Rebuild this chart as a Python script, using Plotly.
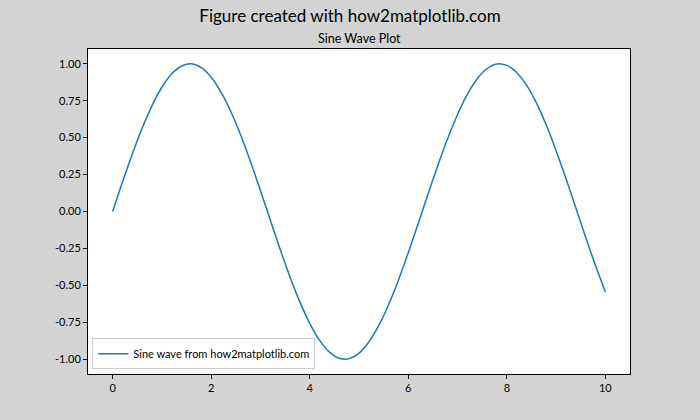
import plotly.graph_objects as go

x_vals = [0.0, 0.2, 0.4, 0.6, 0.8, 1.0, 1.2, 1.4, 1.6, 1.8, 2.0, 2.2, 2.4, 2.6, 2.8, 3.0,
          3.2, 3.4, 3.6, 3.8, 4.0, 4.2, 4.4, 4.6, 4.8, 5.0, 5.2, 5.4, 5.6, 5.8, 6.0,
          6.2, 6.4, 6.6, 6.8, 7.0, 7.2, 7.4, 7.6, 7.8, 8.0, 8.2, 8.4, 8.6, 8.8, 9.0,
          9.2, 9.4, 9.6, 9.8, 10.0]
y_vals = [0.000, 0.199, 0.389, 0.565, 0.717, 0.841, 0.932, 0.985, 1.000, 0.974, 0.909, 0.808, 0.675,
          0.516, 0.335, 0.141, -0.058, -0.256, -0.443, -0.612, -0.757, -0.872, -0.952, -0.994,
          -0.996, -0.959, -0.883, -0.773, -0.631, -0.465, -0.279, -0.083, 0.117, 0.312, 0.494,
          0.657, 0.794, 0.899, 0.968, 0.999, 0.989, 0.941, 0.855, 0.735, 0.585, 0.412, 0.223,
          0.025, -0.174, -0.366, -0.544]
x_ticks = [0, 2, 4, 6, 8, 10]
y_ticks = [-1.00, -0.75, -0.50, -0.25, 0.00, 0.25, 0.50, 0.75, 1.00]
series_name = "Sine wave from how2matplotlib.com"
fig_title = "Figure created with how2matplotlib.com"
ax_title = "Sine Wave Plot"

FONT = "Lato, Roboto, Noto Sans, sans-serif"

fig = go.Figure()
fig.add_trace(go.Scatter(x=x_vals, y=y_vals, mode="lines", name=series_name,
                         line=dict(color="#1f77b4", width=1.5, shape="spline")))

axis_common = dict(showline=True, linecolor="black", linewidth=1, mirror=True,
                   ticks="outside", ticklen=4, tickcolor="black", showgrid=False,
                   zeroline=False, tickfont=dict(size=11, color="black", family=FONT))

fig.update_layout(
    width=700, height=420,
    paper_bgcolor="#d3d3d3", plot_bgcolor="white",
    margin=dict(l=88, r=70, t=49, b=46, autoexpand=False),
    font=dict(family=FONT, color="black"),
    showlegend=True,
    legend=dict(x=0.008, y=0.015, xanchor="left", yanchor="bottom",
                bgcolor="white", bordercolor="#cccccc", borderwidth=1,
                font=dict(size=11, family=FONT), itemwidth=30),
    xaxis=dict(range=[-0.5, 10.5], tickvals=x_ticks, ticktext=[str(v) for v in x_ticks], **axis_common),
    yaxis=dict(range=[-1.1, 1.1], tickvals=y_ticks, ticktext=[f"{v:.2f}" for v in y_ticks], **axis_common),
    title=dict(text=fig_title, x=0.5, xanchor="center", y=1 - 16/420, yanchor="middle",
               xref="container", yref="container", font=dict(size=17, family=FONT, weight="normal")),
    annotations=[
        dict(text=ax_title, x=0.5, y=1.0, xref="paper", yref="paper", yanchor="bottom", xanchor="center",
             yshift=1, showarrow=False, font=dict(size=12.5, family=FONT, weight="normal")),
    ],
)

fig.write_html("out.html", config={"displayModeBar": False},
               post_script="document.body.style.margin='0';document.body.style.background='#d3d3d3';")
